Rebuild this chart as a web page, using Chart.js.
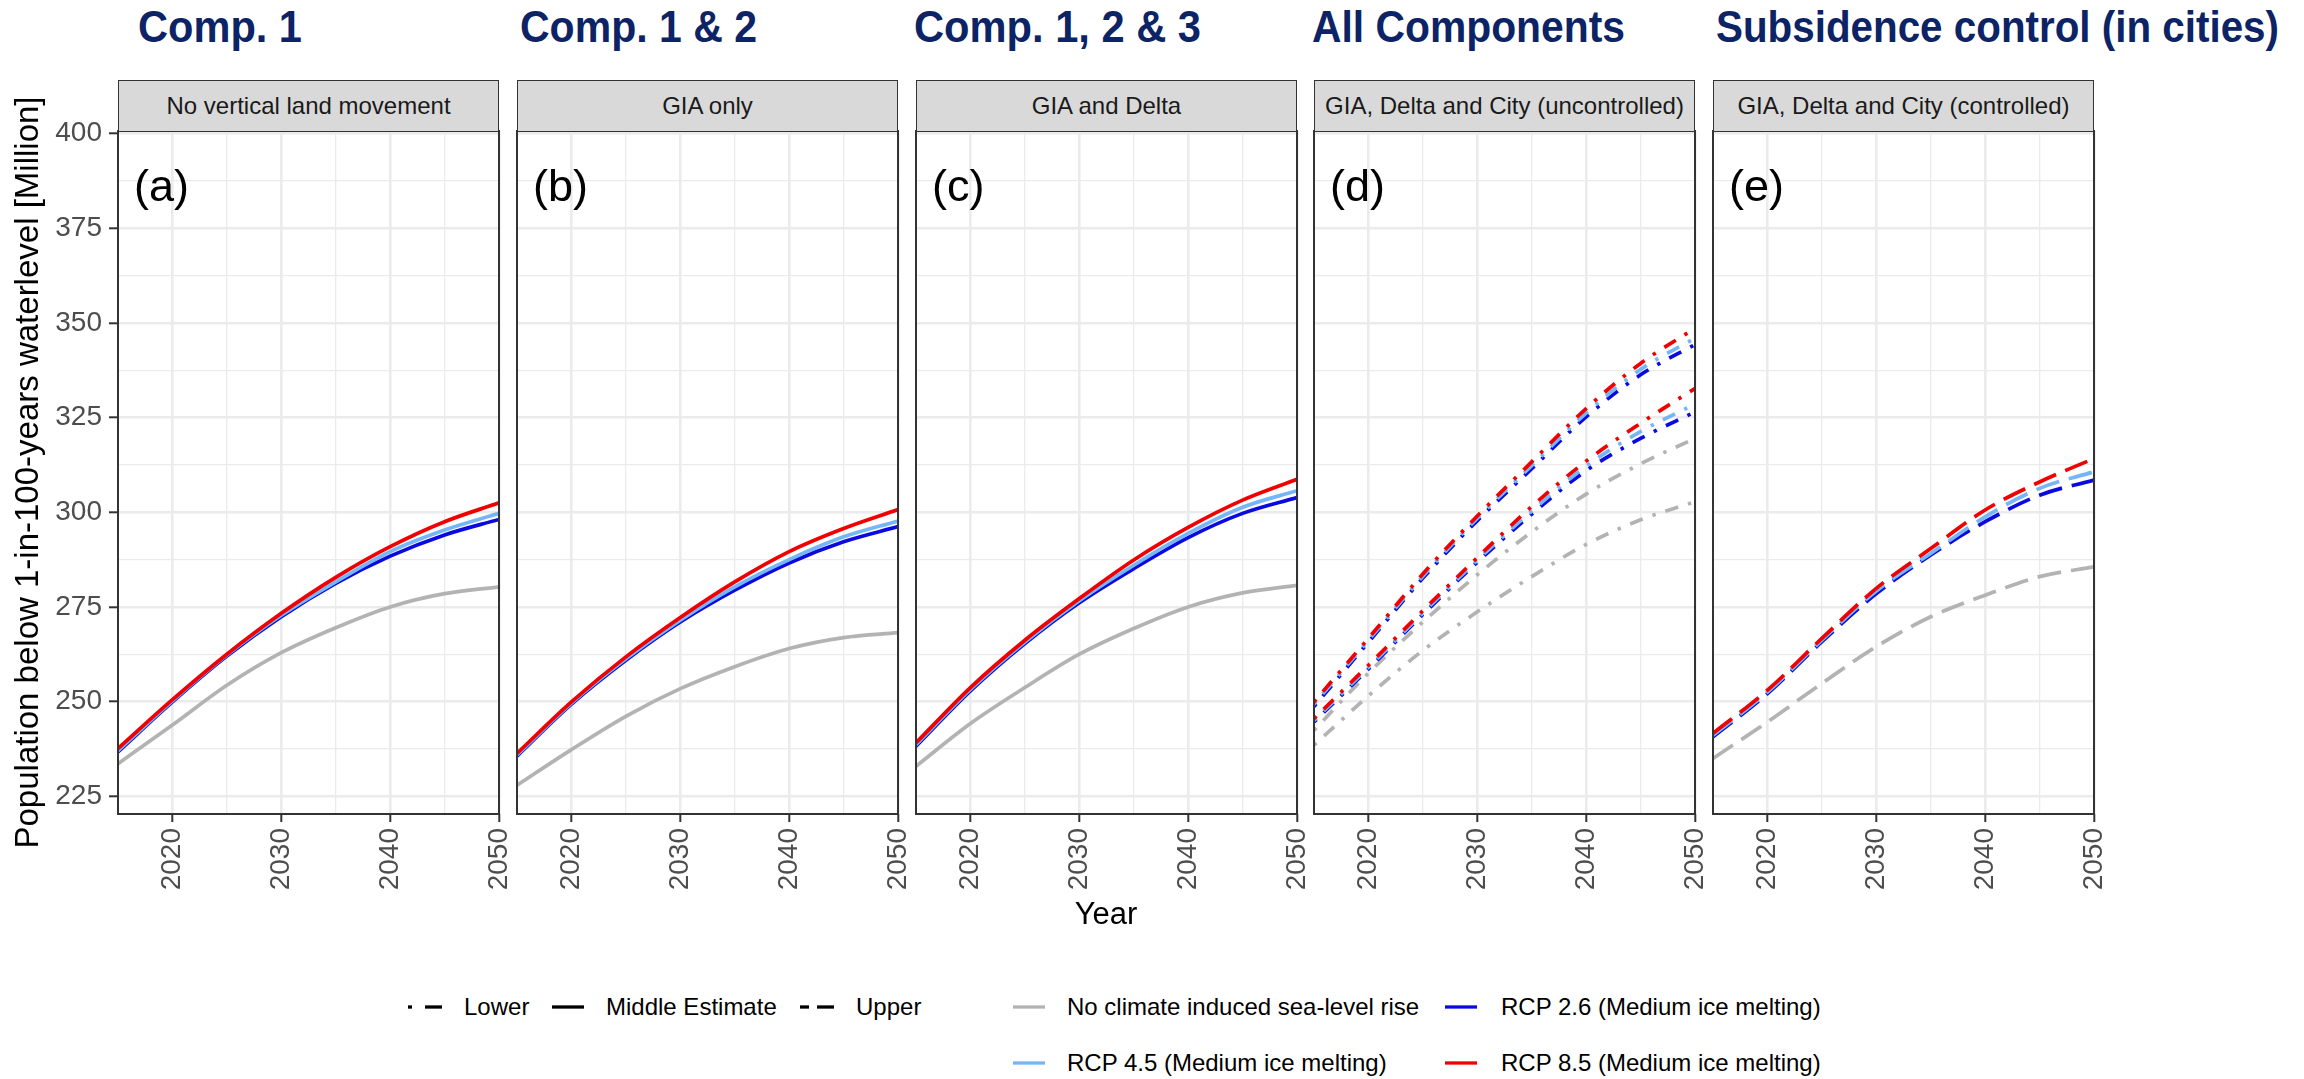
<!DOCTYPE html>
<html>
<head>
<meta charset="utf-8">
<script src="https://cdn.jsdelivr.net/npm/chart.js@4.4.1/dist/chart.umd.min.js"></script>
<style>
  html, body { margin: 0; padding: 0; background: #fff; }
  #page { position: relative; width: 2304px; height: 1079px; overflow: hidden;
          font-family: 'Liberation Sans', Arial, sans-serif; }
  #page canvas { position: absolute; }
  .title { position: absolute; top: 5px; font-weight: bold; font-size: 44px; line-height: 44px;
           color: #0c2366; white-space: nowrap; transform-origin: 0 0; }
  .strip { position: absolute; top: 80px; height: 51px; box-sizing: border-box; background: #d9d9d9;
           border: 1px solid #333; border-bottom: none; display: flex; align-items: center;
           justify-content: center; font-size: 24px; color: #1a1a1a; white-space: nowrap; }
  .tag { position: absolute; top: 163px; font-size: 45px; line-height: 45px; color: #000; z-index: 2; }
  .xtitle { position: absolute; top: 898px; width: 200px; left: 1006px; text-align: center;
            font-size: 31px; line-height: 31px; color: #000; }
  .ltext { position: absolute; font-size: 24px; line-height: 24px; color: #000; white-space: nowrap; }
  .lkey { position: absolute; }
</style>
</head>
<body>
<div id="page"></div>
<script>
// years on the x axis
const years = [2015, 2020, 2025, 2030, 2035, 2040, 2045, 2050];

// (a) No vertical land movement - middle estimate
const aNoSlr = [233.6, 243.8, 254.3, 262.9, 269.5, 275.0, 278.5, 280.3];
const aRcp26 = [236.7, 249.9, 262.0, 272.4, 281.2, 288.4, 294.0, 298.1];
const aRcp45 = [237.0, 250.2, 262.3, 272.8, 281.6, 289.6, 295.3, 299.7];
const aRcp85 = [237.6, 250.5, 262.5, 273.3, 282.8, 290.9, 297.5, 302.5];

// (b) GIA only
const bNoSlr = [227.9, 237.3, 246.1, 253.4, 259.2, 264.0, 266.9, 268.2];
const bRcp26 = [235.6, 249.3, 260.9, 271.0, 279.4, 286.6, 292.2, 296.2];
const bRcp45 = [235.9, 249.6, 261.3, 271.5, 280.3, 287.5, 293.5, 297.7];
const bRcp85 = [236.3, 249.9, 261.8, 272.2, 281.6, 289.6, 295.7, 300.7];

// (c) GIA and Delta
const cNoSlr = [232.9, 244.2, 253.7, 262.5, 269.3, 275.0, 278.7, 280.7];
const cRcp26 = [238.2, 252.8, 265.3, 276.1, 285.1, 293.3, 299.7, 303.9];
const cRcp45 = [238.6, 253.2, 265.7, 276.6, 286.0, 294.4, 301.3, 305.7];
const cRcp85 = [239.1, 253.7, 266.2, 277.2, 287.4, 296.0, 303.2, 308.7];

// (d) GIA, Delta and City (uncontrolled) - upper and lower
const dNoSlrUp = [242.4, 257.5, 271.0, 283.5, 294.8, 304.8, 312.8, 319.5];
const dRcp26Up = [248.7, 265.7, 282.6, 297.8, 311.5, 325.2, 336.3, 344.3];
const dRcp45Up = [249.3, 266.2, 283.1, 298.4, 312.3, 326.2, 337.7, 346.0];
const dRcp85Up = [249.9, 266.7, 283.7, 299.0, 313.3, 327.4, 339.3, 348.6];
const dNoSlrLow = [238.5, 251.5, 263.5, 273.7, 283.0, 291.5, 298.0, 302.8];
const dRcp26Low = [244.6, 258.6, 273.0, 286.8, 299.5, 311.0, 319.5, 326.5];
const dRcp45Low = [245.0, 259.0, 273.4, 287.3, 300.3, 312.2, 321.3, 328.6];
const dRcp85Low = [245.5, 259.6, 274.0, 288.0, 301.5, 313.5, 323.5, 332.7];

// (e) GIA, Delta and City (controlled)
const eNoSlr = [235.0, 244.6, 254.8, 264.5, 272.4, 278.1, 283.0, 285.6];
const eRcp26 = [240.7, 252.1, 265.8, 278.5, 288.7, 297.5, 304.5, 308.5];
const eRcp45 = [241.1, 252.5, 266.2, 279.2, 289.1, 298.8, 306.3, 310.7];
const eRcp85 = [241.6, 253.0, 266.7, 279.9, 290.4, 300.6, 308.0, 314.2];

const panelTitles = ['Comp. 1', 'Comp. 1 & 2', 'Comp. 1, 2 & 3', 'All Components', 'Subsidence control (in cities)'];
const stripLabels = ['No vertical land movement', 'GIA only', 'GIA and Delta',
                     'GIA, Delta and City (uncontrolled)', 'GIA, Delta and City (controlled)'];
const panelTags = ['(a)', '(b)', '(c)', '(d)', '(e)'];
const yTickLabels = [225, 250, 275, 300, 325, 350, 375, 400];
const xTickLabels = [2020, 2030, 2040, 2050];
const yTitle = 'Population below 1-in-100-years waterlevel [Million]';

const colors = { none: '#b3b3b3', rcp26: '#0a0ae0', rcp45: '#74b6f7', rcp85: '#f00000' };
const dashes = { solid: [], dotdash: [3.4, 10.2, 13.6, 10.2], longdash: [24, 10] };

// lines per panel, first drawn on top
const panelLines = [
  [[aRcp85, 'rcp85', 'solid'], [aRcp45, 'rcp45', 'solid'], [aRcp26, 'rcp26', 'solid'], [aNoSlr, 'none', 'solid']],
  [[bRcp85, 'rcp85', 'solid'], [bRcp45, 'rcp45', 'solid'], [bRcp26, 'rcp26', 'solid'], [bNoSlr, 'none', 'solid']],
  [[cRcp85, 'rcp85', 'solid'], [cRcp45, 'rcp45', 'solid'], [cRcp26, 'rcp26', 'solid'], [cNoSlr, 'none', 'solid']],
  [[dRcp85Up, 'rcp85', 'dotdash'], [dRcp85Low, 'rcp85', 'dotdash'], [dRcp45Up, 'rcp45', 'dotdash'],
   [dRcp45Low, 'rcp45', 'dotdash'], [dRcp26Up, 'rcp26', 'dotdash'], [dRcp26Low, 'rcp26', 'dotdash'],
   [dNoSlrUp, 'none', 'dotdash'], [dNoSlrLow, 'none', 'dotdash']],
  [[eRcp85, 'rcp85', 'longdash'], [eRcp45, 'rcp45', 'longdash'], [eRcp26, 'rcp26', 'longdash'], [eNoSlr, 'none', 'longdash']]
];

// layout
const panelLeft = [118, 517, 916, 1314, 1713];
const panelWidth = 381;
const titleLeft = [138, 520, 914, 1312, 1716];
const titleWidth = [164, 237, 287, 313, 563];
const FONT = "'Liberation Sans', Arial, sans-serif";

const page = document.getElementById('page');

function addDiv(cls, text, style) {
  const el = document.createElement('div');
  el.className = cls;
  el.textContent = text;
  Object.assign(el.style, style);
  page.appendChild(el);
  return el;
}

const panelBorder = {
  id: 'panelBorder',
  afterDraw(chart) {
    const { ctx, chartArea: a } = chart;
    ctx.save();
    ctx.strokeStyle = '#333333';
    ctx.lineWidth = 2;
    ctx.strokeRect(a.left, a.top, a.right - a.left, a.bottom - a.top);
    ctx.restore();
  }
};

function makePanel(i) {
  const first = i === 0;
  const padLeft = first ? 0 : 10;
  const yWidth = first ? panelLeft[0] : 0;
  const canvas = document.createElement('canvas');
  const w = padLeft + yWidth + panelWidth + 20;
  canvas.width = w;
  canvas.height = 834;
  canvas.style.left = (first ? 0 : panelLeft[i] - padLeft) + 'px';
  canvas.style.top = '80px';
  page.appendChild(canvas);

  const datasets = panelLines[i].map(([vals, key, dash]) => ({
    data: years.map((yr, k) => ({ x: yr, y: vals[k] })),
    borderColor: colors[key],
    borderWidth: 3.7,
    borderDash: dashes[dash],
    pointRadius: 0,
    cubicInterpolationMode: 'monotone',
    fill: false,
    clip: 0
  }));

  const isMajorY = v => yTickLabels.includes(v);
  const isMajorX = v => xTickLabels.includes(v);

  new Chart(canvas, {
    type: 'line',
    data: { datasets },
    plugins: [panelBorder],
    options: {
      responsive: false,
      devicePixelRatio: 1,
      animation: false,
      layout: { padding: { top: 51, left: padLeft, right: 20, bottom: 0 } },
      plugins: { legend: { display: false }, tooltip: { enabled: false } },
      scales: {
        x: {
          type: 'linear', min: 2015, max: 2050,
          border: { display: false },
          grid: {
            color: '#ebebeb',
            lineWidth: c => isMajorX(c.tick.value) ? 2.6 : 1.3,
            tickColor: c => isMajorX(c.tick.value) ? '#333333' : 'rgba(0,0,0,0)',
            tickLength: 8, tickWidth: 2
          },
          ticks: {
            stepSize: 5, autoSkip: false, includeBounds: false,
            minRotation: 90, maxRotation: 90, padding: 6,
            color: '#4d4d4d', font: { family: FONT, size: 28 },
            callback: v => isMajorX(v) ? String(v) : ''
          },
          afterFit: s => { s.height = 100; s.paddingLeft = 0; s.paddingRight = 0; s.paddingTop = 0; s.paddingBottom = 0; }
        },
        y: {
          min: 220.3, max: 400.7,
          border: { display: false },
          grid: {
            color: '#ebebeb',
            lineWidth: c => isMajorY(c.tick.value) ? 2.6 : 1.3,
            tickColor: c => isMajorY(c.tick.value) ? '#333333' : 'rgba(0,0,0,0)',
            drawTicks: first, tickLength: 9, tickWidth: 2
          },
          ticks: {
            display: first, stepSize: 12.5, autoSkip: false, includeBounds: false, padding: 7,
            color: '#4d4d4d', font: { family: FONT, size: 28 },
            callback: v => isMajorY(v) ? String(v) : ''
          },
          title: {
            display: first, text: yTitle, color: '#000',
            font: { family: FONT, size: 33 }, padding: { top: 9, bottom: 0 }
          },
          afterFit: s => { s.width = yWidth; s.paddingLeft = 0; s.paddingRight = 0; s.paddingTop = 0; s.paddingBottom = 0; }
        }
      }
    }
  });

  addDiv('strip', stripLabels[i], { left: panelLeft[i] + 'px', width: panelWidth + 'px' });
  addDiv('tag', panelTags[i], { left: (panelLeft[i] + 16) + 'px' });
  const t = addDiv('title', panelTitles[i], { left: titleLeft[i] + 'px' });
  const tw = t.getBoundingClientRect().width;
  t.style.transform = 'scaleX(' + (titleWidth[i] / tw) + ')';
}

for (let i = 0; i < 5; i++) makePanel(i);

addDiv('xtitle', 'Year', {});

// legend
function keySvg(x1, x2, cy, color, segs) {
  const ns = 'http://www.w3.org/2000/svg';
  const svg = document.createElementNS(ns, 'svg');
  svg.setAttribute('class', 'lkey');
  svg.setAttribute('width', x2 - x1);
  svg.setAttribute('height', 10);
  svg.style.left = x1 + 'px';
  svg.style.top = (cy - 5) + 'px';
  segs.forEach(([a, b]) => {
    const ln = document.createElementNS(ns, 'line');
    ln.setAttribute('x1', a - x1); ln.setAttribute('x2', b - x1);
    ln.setAttribute('y1', 5); ln.setAttribute('y2', 5);
    ln.setAttribute('stroke', color); ln.setAttribute('stroke-width', 3.3);
    svg.appendChild(ln);
  });
  page.appendChild(svg);
}

const row1 = 1007, row2 = 1063;
const ltop = r => (r - 12) + 'px';
keySvg(405, 445, row1, '#000', [[408, 412], [425, 442]]);
addDiv('ltext', 'Lower', { left: '464px', top: ltop(row1) });
keySvg(548, 588, row1, '#000', [[552, 584]]);
addDiv('ltext', 'Middle Estimate', { left: '606px', top: ltop(row1) });
keySvg(797, 837, row1, '#000', [[800, 809], [817, 834]]);
addDiv('ltext', 'Upper', { left: '856px', top: ltop(row1) });

keySvg(1011, 1047, row1, colors.none, [[1013, 1045]]);
addDiv('ltext', 'No climate induced sea-level rise', { left: '1067px', top: ltop(row1) });
keySvg(1443, 1479, row1, colors.rcp26, [[1445, 1477]]);
addDiv('ltext', 'RCP 2.6 (Medium ice melting)', { left: '1501px', top: ltop(row1) });
keySvg(1011, 1047, row2, colors.rcp45, [[1013, 1045]]);
addDiv('ltext', 'RCP 4.5 (Medium ice melting)', { left: '1067px', top: ltop(row2) });
keySvg(1443, 1479, row2, colors.rcp85, [[1445, 1477]]);
addDiv('ltext', 'RCP 8.5 (Medium ice melting)', { left: '1501px', top: ltop(row2) });
</script>
</body>
</html>
